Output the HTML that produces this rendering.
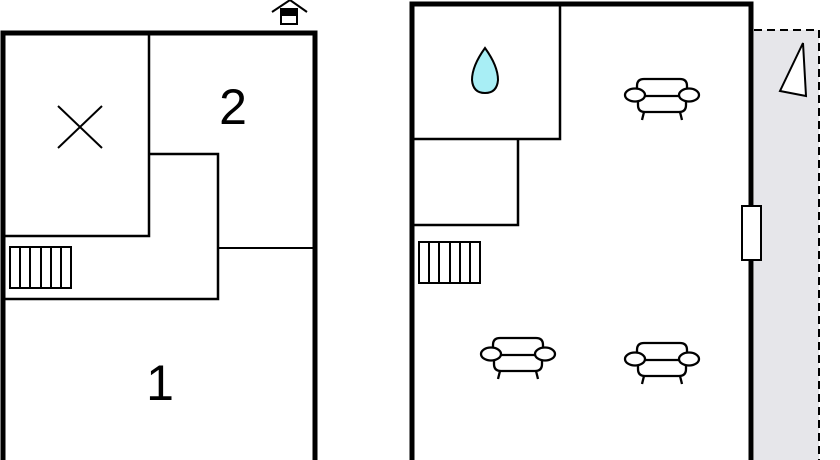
<!DOCTYPE html>
<html><head><meta charset="utf-8"><style>html,body{margin:0;padding:0;background:#fff}svg{display:block}</style></head><body>
<svg width="840" height="460" viewBox="0 0 840 460" xmlns="http://www.w3.org/2000/svg">
<defs>
<g id="sofa" fill="none" stroke="#000" stroke-width="2.3">
<path d="M-25,0 V-9 Q-25,-16 -18,-16 H18 Q25,-16 25,-9 V0"/>
<path d="M-24,2 V10 Q-24,17 -17,17 H17 Q24,17 24,10 V2"/>
<line x1="-20" y1="1" x2="20" y2="1"/>
<ellipse cx="-27" cy="0" rx="10" ry="6.5" fill="#fff"/>
<ellipse cx="27" cy="0" rx="10" ry="6.5" fill="#fff"/>
<line x1="-18" y1="17" x2="-20" y2="25"/>
<line x1="18" y1="17" x2="20" y2="25"/>
</g>
</defs>
<!-- left plan -->
<g fill="none" stroke="#000">
<path d="M3,460 V33 H315 V460" stroke-width="5"/>
<path d="M149,33 V236 H3" stroke-width="2.5"/>
<path d="M149,154 H218 V299 H3" stroke-width="2.5"/>
<line x1="218" y1="248" x2="315" y2="248" stroke-width="2"/>
<rect x="10" y="247" width="61" height="41" stroke-width="2"/>
<path d="M20,247V288M30,247V288M41,247V288M51,247V288M61,247V288" stroke-width="2"/>
<path d="M58,106 L102,148 M102,106 L58,148" stroke-width="2"/>
<path d="M272,12 L290,0 L307,12" stroke-width="2"/>
<rect x="281" y="9" width="16" height="15" stroke-width="2"/>
</g>
<rect x="281" y="9" width="16" height="7" fill="#000"/>
<text x="233" y="124" font-family="Liberation Sans, sans-serif" font-size="50" text-anchor="middle">2</text>
<text x="160" y="400" font-family="Liberation Sans, sans-serif" font-size="50" text-anchor="middle">1</text>
<!-- right plan -->
<rect x="754" y="30" width="65" height="430" fill="#e6e6ea"/>
<path d="M754,30 H819 V460" fill="none" stroke="#000" stroke-width="2" stroke-dasharray="8,5"/>
<g fill="none" stroke="#000">
<path d="M412,460 V4 H751 V460" stroke-width="5"/>
<path d="M412,139 H560 V4" stroke-width="2.5"/>
<path d="M518,139 V225 H412" stroke-width="2.5"/>
<rect x="742" y="206" width="19" height="54" fill="#fff" stroke-width="2"/>
<rect x="419" y="242" width="61" height="41" stroke-width="2"/>
<path d="M429,242V283M439,242V283M450,242V283M460,242V283M470,242V283" stroke-width="2"/>
<polygon points="803,43 806,96 780,91" stroke-width="2" fill="#fff"/>
</g>
<path d="M485,48 Q472,66 472,80 Q473,93 485,93 Q497,93 498,80 Q498,66 485,48 Z" fill="#a8eef5" stroke="#000" stroke-width="2"/>
<use href="#sofa" x="662" y="95"/>
<use href="#sofa" x="518" y="354"/>
<use href="#sofa" x="662" y="359"/>
</svg>
</body></html>
